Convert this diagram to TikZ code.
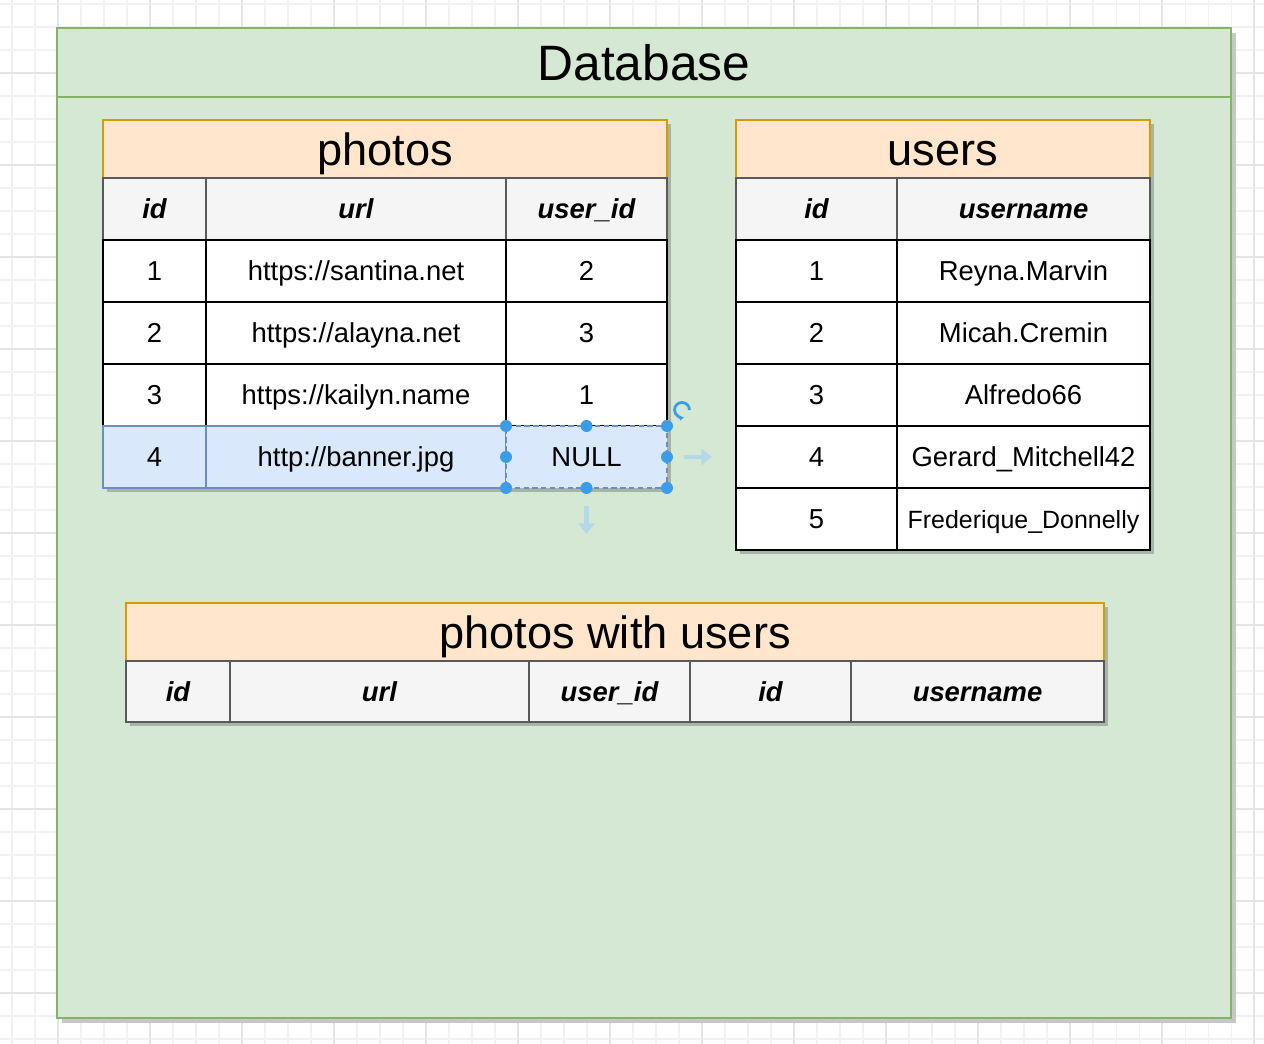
\documentclass[tikz,border=0pt]{standalone}
\usepackage{fontspec}
\setmainfont{Liberation Sans}
\usepackage{xcolor}
\usetikzlibrary{calc}
\usetikzlibrary{positioning}
\usetikzlibrary{arrows.meta}
\definecolor{dbfill}{HTML}{D5E8D4}
\definecolor{dbline}{HTML}{82B366}
\definecolor{orfill}{HTML}{FFE6CC}
\definecolor{orline}{HTML}{D79B00}
\definecolor{headgrey}{HTML}{F5F5F5}
\definecolor{pickfill}{HTML}{DAE8FC}
\definecolor{pickline}{HTML}{6C8EBF}
\definecolor{handleblue}{HTML}{3C9DE6}
\definecolor{hintblue}{HTML}{B4D9E6}
\definecolor{gridminor}{HTML}{F2F2F2}
\definecolor{gridmajor}{HTML}{E4E4E4}
\pgfdeclarelayer{paper}
\pgfdeclarelayer{frame}
\pgfdeclarelayer{shade}
\pgfsetlayers{paper,frame,shade,main}

\begin{document}
\begin{tikzpicture}[node distance=0pt, font=\fontsize{15.6}{19}\selectfont]
	\tikzstyle{cell}=[draw=black, line width=1.1pt, fill=white, minimum height=1.24cm, inner sep=0pt, outer sep=0pt, text height=11.2pt, text depth=0pt]
	\tikzstyle{colhead}=[cell, draw=black!65, fill=headgrey, font=\fontsize{15.6}{19}\selectfont\bfseries\itshape]
	\tikzstyle{picked}=[cell, draw=pickline, fill=pickfill]
	\tikzstyle{tabletitle}=[draw=orline, fill=orfill, line width=1.1pt, minimum height=1.16cm, inner sep=0pt, outer sep=0pt, text height=18.3pt, text depth=0pt, font=\fontsize{25.7}{30}\selectfont]
	\tikzstyle{dbpart}=[draw=dbline, fill=dbfill, line width=1.4pt, inner sep=0pt, outer sep=0pt]
	\tikzstyle{shadow}=[fill=black, opacity=0.22]
	\tikzstyle{handle}=[circle, fill=handleblue, minimum size=0.24cm, inner sep=0pt]
	\tikzstyle{hint}=[draw=hintblue, line width=2.4pt, -{Triangle[length=6pt, width=9pt]}]

	\useasboundingbox (0,0) rectangle (25.28,20.88);

	% database frame
	\begin{pgfonlayer}{frame}
		\node[dbpart, minimum width=23.48cm, minimum height=1.38cm, anchor=north west, text height=20.3pt, text depth=0pt, font=\fontsize{28.3}{34}\selectfont] (db-title) at (1.14,20.32) {Database};
		\node[dbpart, minimum width=23.48cm, minimum height=18.42cm, below=of db-title] (db-body) {};
	\end{pgfonlayer}
	\begin{pgfonlayer}{paper}
		\begin{scope}[shift={(1.16,19.42)}]
			\draw[gridminor, line width=0.6pt, step=0.46cm] (-1.16,-19.42) grid (24.12,1.46);
			\draw[gridmajor, line width=0.6pt, step=1.84cm] (-1.16,-19.42) grid (24.12,1.46);
		\end{scope}
		\fill[black!22] ($(db-title.north west)+(0.1,-0.1)$) rectangle ($(db-body.south east)+(0.1,-0.1)$);
	\end{pgfonlayer}

	% photos
	\node[tabletitle, minimum width=11.28cm, anchor=north west] (p-title) at (2.06,18.48) {photos};
	\node[colhead, minimum width=2.06cm, below right=of p-title.south west] (p-h1) {id};
	\node[colhead, minimum width=6cm, right=of p-h1] (p-h2) {url};
	\node[colhead, minimum width=3.22cm, right=of p-h2] (p-h3) {user\_id};
	\node[cell, minimum width=2.06cm, below=of p-h1] (p-11) {1};
	\node[cell, minimum width=6cm, right=of p-11] (p-12) {https://santina.net};
	\node[cell, minimum width=3.22cm, right=of p-12] (p-13) {2};
	\node[cell, minimum width=2.06cm, below=of p-11] (p-21) {2};
	\node[cell, minimum width=6cm, right=of p-21] (p-22) {https://alayna.net};
	\node[cell, minimum width=3.22cm, right=of p-22] (p-23) {3};
	\node[cell, minimum width=2.06cm, below=of p-21] (p-31) {3};
	\node[cell, minimum width=6cm, right=of p-31] (p-32) {https://kailyn.name};
	\node[cell, minimum width=3.22cm, right=of p-32] (p-33) {1};
	\node[picked, minimum width=2.06cm, below=of p-31] (p-41) {4};
	\node[picked, minimum width=6cm, right=of p-41] (p-42) {http://banner.jpg};
	\node[picked, dash pattern=on 3pt off 2pt, minimum width=3.22cm, right=of p-42] (p-43) {NULL};

	% users
	\node[tabletitle, minimum width=8.28cm, anchor=north west] (u-title) at (14.72,18.48) {users};
	\node[colhead, minimum width=3.22cm, below right=of u-title.south west] (u-h1) {id};
	\node[colhead, minimum width=5.06cm, right=of u-h1] (u-h2) {username};
	\node[cell, minimum width=3.22cm, below=of u-h1] (u-11) {1};
	\node[cell, minimum width=5.06cm, right=of u-11] (u-12) {Reyna.Marvin};
	\node[cell, minimum width=3.22cm, below=of u-11] (u-21) {2};
	\node[cell, minimum width=5.06cm, right=of u-21] (u-22) {Micah.Cremin};
	\node[cell, minimum width=3.22cm, below=of u-21] (u-31) {3};
	\node[cell, minimum width=5.06cm, right=of u-31] (u-32) {Alfredo66};
	\node[cell, minimum width=3.22cm, below=of u-31] (u-41) {4};
	\node[cell, minimum width=5.06cm, right=of u-41] (u-42) {Gerard\_Mitchell42};
	\node[cell, minimum width=3.22cm, below=of u-41] (u-51) {5};
	\node[cell, minimum width=5.06cm, right=of u-51, font=\fontsize{14.2}{17}\selectfont] (u-52) {Frederique\_Donnelly};

	% photos with users
	\node[tabletitle, minimum width=19.56cm, anchor=north west] (j-title) at (2.52,8.82) {photos with users};
	\node[colhead, minimum height=1.22cm, minimum width=2.08cm, below right=of j-title.south west] (j-h1) {id};
	\node[colhead, minimum height=1.22cm, minimum width=5.98cm, right=of j-h1] (j-h2) {url};
	\node[colhead, minimum height=1.22cm, minimum width=3.22cm, right=of j-h2] (j-h3) {user\_id};
	\node[colhead, minimum height=1.22cm, minimum width=3.22cm, right=of j-h3] (j-h4) {id};
	\node[colhead, minimum height=1.22cm, minimum width=5.06cm, right=of j-h4] (j-h5) {username};

	\begin{pgfonlayer}{shade}
		\fill[shadow] ($(p-title.north west)+(0.08,-0.08)$) rectangle ($(p-43.south east)+(0.08,-0.08)$);
		\fill[shadow] ($(u-title.north west)+(0.08,-0.08)$) rectangle ($(u-52.south east)+(0.08,-0.08)$);
		\fill[shadow] ($(j-title.north west)+(0.08,-0.08)$) rectangle ($(j-h5.south east)+(0.08,-0.08)$);
	\end{pgfonlayer}

	% selection handles on the NULL cell
	\foreach \a [count=\i] in {north west,north,north east,west,east,south west,south,south east}
		\node[handle] (hd\i) at (p-43.\a) {};
	\coordinate (hr-a) at ($(p-43.east)+(0.34,0)$);
	\coordinate (hr-b) at ($(p-43.east)+(0.9,0)$);
	\coordinate (hb-a) at ($(p-43.south)+(0,-0.36)$);
	\coordinate (hb-b) at ($(p-43.south)+(0,-0.92)$);
	\draw[hint] (hr-a) -- (hr-b);
	\draw[hint] (hb-a) -- (hb-b);
	\coordinate (rot) at ($(p-43.north east)+(0.3,0.32)$);
	\draw[handleblue, line width=1.6pt, -{Latex[length=3pt]}] ($(rot)+(0.15,0)$) arc[start angle=0, end angle=290, radius=0.15];
\end{tikzpicture}
\end{document}
